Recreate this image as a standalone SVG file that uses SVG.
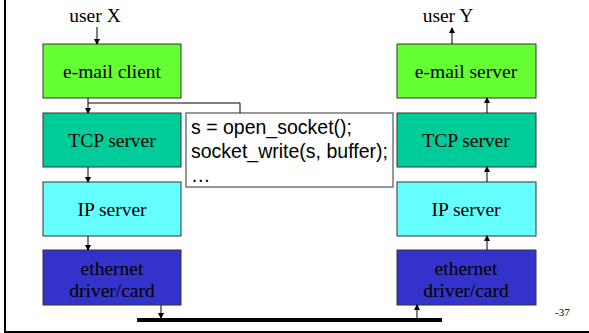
<svg xmlns="http://www.w3.org/2000/svg" width="589" height="333" viewBox="0 0 589 333">
<defs>
<marker id="ah" markerWidth="6" markerHeight="6" refX="5" refY="3" orient="auto" markerUnits="userSpaceOnUse">
<path d="M0,0 L6,3 L0,6 z" fill="#000"/>
</marker>
<style>
.box{stroke:#333;stroke-width:1}
.lbl{font-family:'Liberation Serif','Times New Roman','DejaVu Serif',serif;font-size:19.5px;fill:#000;text-anchor:middle}
.code{font-family:'Liberation Sans',Arial,sans-serif;font-size:19.5px;fill:#000}
.con{stroke:#000;stroke-width:1;fill:none}
</style>
</defs>
<rect width="589" height="333" fill="#fff"/>
<line x1="5" y1="0" x2="5" y2="332" stroke="#000" stroke-width="2"/>
<line x1="4" y1="332" x2="589" y2="332" stroke="#000" stroke-width="2"/>
<text class="lbl" x="95" y="22">user X</text>
<text class="lbl" x="448" y="22">user Y</text>
<g id="emailclient"><rect class="box" x="43" y="44" width="138" height="54" fill="#66FF33"/><text class="lbl" x="112" y="78">e-mail client</text></g>
<g id="tcpleft"><rect class="box" x="43" y="113" width="138" height="54" fill="#00CC99"/><text class="lbl" x="112" y="147">TCP server</text></g>
<g id="ipleft"><rect class="box" x="43" y="182" width="138" height="54" fill="#66FFFF"/><text class="lbl" x="112" y="216">IP server</text></g>
<g id="ethleft"><rect class="box" x="43" y="250" width="138" height="55" fill="#3333CC"/><text class="lbl" x="112" y="275">ethernet</text><text class="lbl" x="112" y="297">driver/card</text></g>
<g id="emailserver"><rect class="box" x="397" y="44" width="139" height="54" fill="#66FF33"/><text class="lbl" x="466" y="78">e-mail server</text></g>
<g id="tcpright"><rect class="box" x="397" y="113" width="139" height="54" fill="#00CC99"/><text class="lbl" x="466" y="147">TCP server</text></g>
<g id="ipright"><rect class="box" x="397" y="182" width="139" height="54" fill="#66FFFF"/><text class="lbl" x="466" y="216">IP server</text></g>
<g id="ethright"><rect class="box" x="397" y="250" width="139" height="55" fill="#3333CC"/><text class="lbl" x="466" y="275">ethernet</text><text class="lbl" x="466" y="297">driver/card</text></g>
<g id="codebox"><rect x="186" y="113" width="207" height="74" fill="#fff" stroke="#777" stroke-width="1.5"/>
<text class="code" x="191" y="134">s = open_socket();</text>
<text class="code" x="191" y="158">socket_write(s, buffer);</text>
<text class="code" x="191" y="182">…</text></g>
<g id="bus"><line x1="137" y1="320" x2="442" y2="320" stroke="#000" stroke-width="4"/></g>
<text x="555" y="316" font-family="'Liberation Serif','DejaVu Serif',serif" font-size="11">-37</text>
<g id="connectors">
<line class="con" x1="97" y1="27" x2="97" y2="44" marker-end="url(#ah)"/>
<line class="con" x1="88" y1="98" x2="88" y2="113" marker-end="url(#ah)"/>
<polyline class="con" points="88,103 240,103 240,113" stroke="#333"/>
<line class="con" x1="88" y1="167" x2="88" y2="182" marker-end="url(#ah)"/>
<line class="con" x1="88" y1="236" x2="88" y2="250" marker-end="url(#ah)"/>
<line class="con" x1="161" y1="305" x2="161" y2="318" marker-end="url(#ah)"/>
<line class="con" x1="417" y1="318" x2="417" y2="305" marker-end="url(#ah)"/>
<line class="con" x1="487" y1="250" x2="487" y2="236" marker-end="url(#ah)"/>
<line class="con" x1="487" y1="182" x2="487" y2="167" marker-end="url(#ah)"/>
<line class="con" x1="487" y1="113" x2="487" y2="98" marker-end="url(#ah)"/>
<line class="con" x1="452" y1="44" x2="452" y2="28" marker-end="url(#ah)"/>
</g>
</svg>
